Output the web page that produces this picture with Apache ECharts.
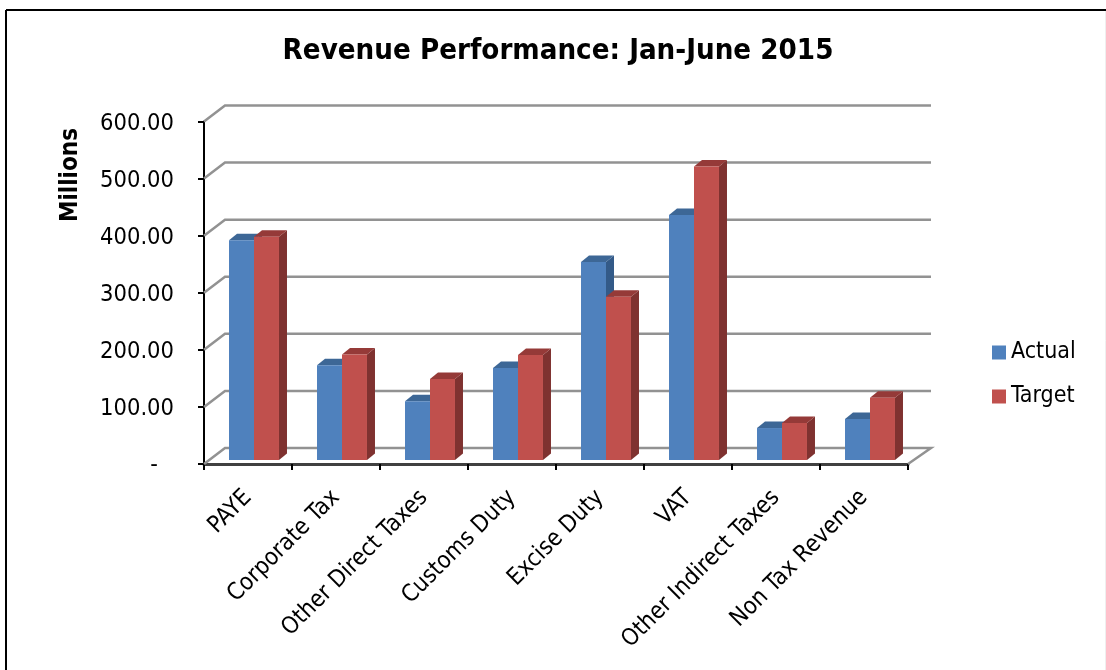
<!DOCTYPE html>
<html><head><meta charset="utf-8">
<style>html,body{margin:0;padding:0;background:#fff}#c{width:1106px;height:670px}</style>
<script src="https://cdn.jsdelivr.net/npm/echarts@6/dist/echarts.min.js"></script>
</head><body><div id="c"></div>
<script>
const categories = ['PAYE','Corporate Tax','Other Direct Taxes','Customs Duty','Excise Duty','VAT','Other Indirect Taxes','Non Tax Revenue'];
const actual = [385,166,103,161,347,429,56,72];
const target = [391,185,142,184,286,514,65,109];
const yTicks = [0,100,200,300,400,500,600];
const FONT = '"DejaVu Sans Condensed","DejaVu Sans",sans-serif';
const WALL_DX = 21, WALL_DY = -16, BAR_DX = 6, BAR_DY = -4, DEPTH_X = 8, DEPTH_Y = -6.5, BAR_FRAC = 0.284;

function barRenderer(side, front, top, dark) {
  return function (params, api) {
    const i = api.value(0), v = api.value(1);
    const base = api.coord([i, 0]), tip = api.coord([i, v]);
    const w = api.size([1, 0])[0] * BAR_FRAC;
    const cx = base[0] + BAR_DX;
    const x0 = side < 0 ? cx - w : cx, x1 = x0 + w;
    const y0 = tip[1] + BAR_DY, y1 = base[1] + BAR_DY;
    const poly = (pts, fill) => ({type:'polygon', shape:{points:pts}, style:{fill:fill, stroke:null}});
    return {type:'group', children:[
      poly([[x1,y0],[x1+DEPTH_X,y0+DEPTH_Y],[x1+DEPTH_X,y1+DEPTH_Y],[x1,y1]], dark),
      poly([[x0,y0],[x0+DEPTH_X,y0+DEPTH_Y],[x1+DEPTH_X,y0+DEPTH_Y],[x1,y0]], top),
      poly([[x0,y0],[x1,y0],[x1,y1],[x0,y1]], front)
    ]};
  };
}
function wallRenderer(params, api) {
  const t = api.value(1), p = api.coord([0, t]);
  const cs = params.coordSys, xl = cs.x, xr = cs.x + cs.width, y = p[1];
  const pts = [[xl,y],[xl+WALL_DX,y+WALL_DY],[xr+23,y+WALL_DY]];
  if (t === 0) pts.push([xr,y]);
  return {type:'polyline', shape:{points:pts}, style:{stroke:'#929292', lineWidth:2.5, fill:null}};
}
const chart = echarts.init(document.getElementById('c'), null, {renderer:'canvas'});
chart.setOption({
  animation:false,
  backgroundColor:'#fff',
  title:{text:'Revenue Performance: Jan-June 2015', left:553, top:32, textAlign:'center',
    textStyle:{fontFamily:FONT, fontWeight:'bold', fontSize:29.2, color:'#000'}},
  legend:{data:['Actual','Target'], orient:'vertical', left:987, top:336, icon:'rect',
    itemWidth:14, itemHeight:14, itemGap:21, selectedMode:false,
    textStyle:{fontFamily:FONT, fontSize:23, color:'#000'}},
  grid:{left:204, right:198, top:121.5, bottom:206},
  xAxis:{type:'category', data:categories,
    axisLine:{lineStyle:{color:'#404040', width:3}},
    axisTick:{show:true, length:6, alignWithLabel:false, lineStyle:{color:'#000', width:2}},
    axisLabel:{rotate:45, margin:30, interval:0, fontFamily:FONT, fontSize:23.6, color:'#000'},
    splitLine:{show:false}},
  yAxis:{type:'value', min:0, max:600, interval:100,
    axisLine:{show:true, lineStyle:{color:'#000', width:2}},
    axisTick:{show:true, length:6, lineStyle:{color:'#000', width:2}},
    axisLabel:{margin:30, fontFamily:FONT, fontSize:23.5, color:'#000',
      rich:{v:{fontFamily:FONT, fontSize:23.5, color:'#000', padding:[4,0,0,0]},
            d:{fontFamily:FONT, fontSize:23.5, color:'#000', padding:[2,16,0,0]}},
      formatter:v => v === 0 ? '{d|-}' : '{v|' + v.toFixed(2) + '}'},
    splitLine:{show:false}},
  graphic:[
    {type:'line', shape:{x1:6,y1:10,x2:1106,y2:10}, style:{stroke:'#000', lineWidth:2}},
    {type:'line', shape:{x1:6,y1:10,x2:6,y2:670}, style:{stroke:'#000', lineWidth:2}},
    {type:'line', shape:{x1:1105.5,y1:11,x2:1105.5,y2:670}, style:{stroke:'#efefef', lineWidth:1}},
    {type:'text', x:71, y:175, rotation:Math.PI/2,
      style:{text:'Millions', fontFamily:FONT, fontWeight:'bold', fontSize:24, fill:'#000', align:'center', verticalAlign:'middle'}}
  ],
  series:[
    {type:'custom', name:'Wall', silent:true, z:1, data:yTicks.map(t=>[0,t]), renderItem:wallRenderer, encode:{x:0,y:1}},
    {type:'custom', name:'Actual', z:2, itemStyle:{color:'#4F81BD'}, data:actual.map((v,i)=>[i,v]),
      renderItem:barRenderer(-1,'#4F81BD','#3D6796','#335A88'), encode:{x:0,y:1}},
    {type:'custom', name:'Target', z:3, itemStyle:{color:'#C0504D'}, data:target.map((v,i)=>[i,v]),
      renderItem:barRenderer(1,'#C0504D','#953A38','#7F3230'), encode:{x:0,y:1}}
  ]
});
</script></body></html>
